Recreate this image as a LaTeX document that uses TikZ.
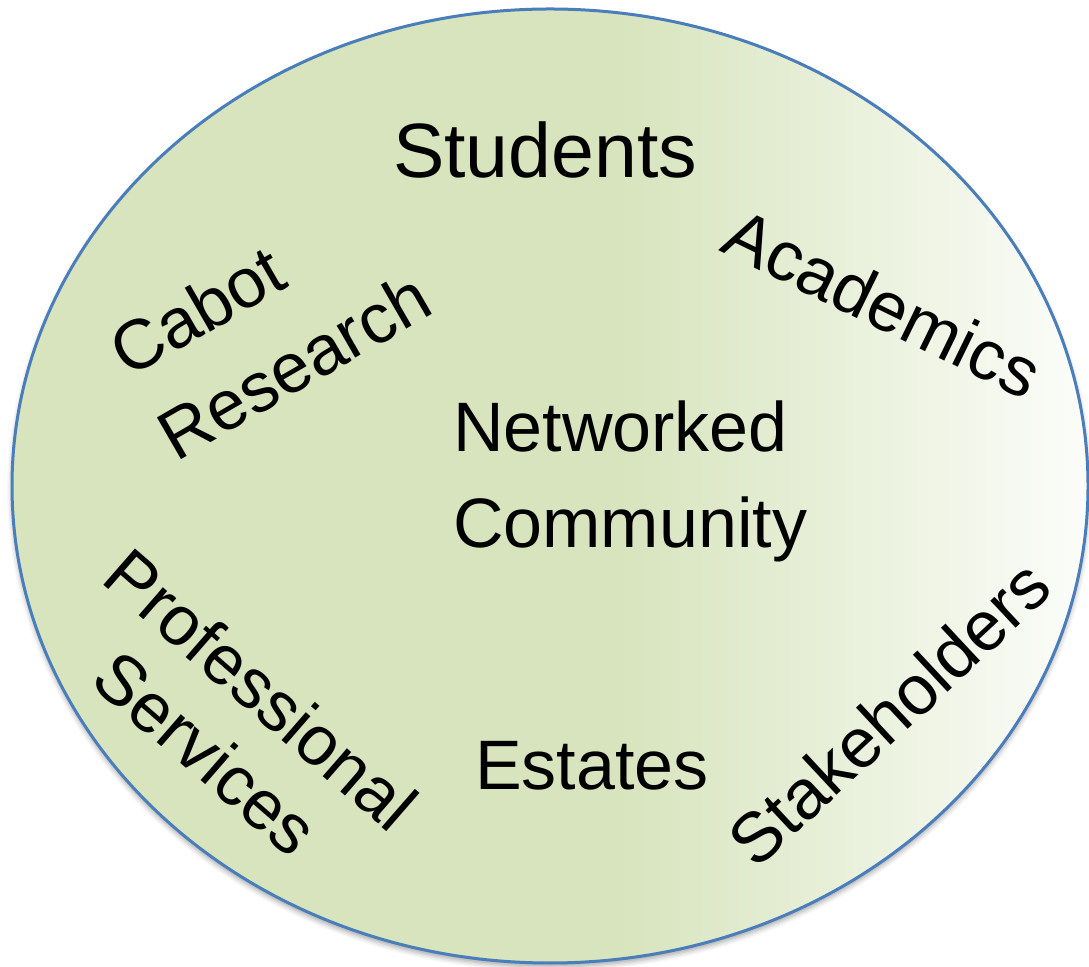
\documentclass[tikz,border=0pt]{standalone}
\usepackage{fontspec}
\setmainfont{Liberation Sans}
\usetikzlibrary{shapes.geometric,shadows.blur}

\definecolor{ringgreen}{RGB}{215,228,189}
\definecolor{ringblue}{RGB}{74,126,187}
\pgfdeclarehorizontalshading{greenfade}{100bp}{color(0bp)=(ringgreen); color(53bp)=(ringgreen); color(75bp)=(ringgreen!8!white); color(100bp)=(ringgreen!8!white)}

\begin{document}
\begin{tikzpicture}[x=1pt, y=1pt,
        member/.style={font=\fontsize{70}{96}\selectfont, inner sep=0pt, text=black}]
        \useasboundingbox (0,0) rectangle (1089,966);

        % the community itself
        \node[ellipse, minimum width=1076, minimum height=954, inner sep=0pt,
              shading=greenfade, draw=ringblue, line width=3pt,
              blur shadow={shadow xshift=0pt, shadow yshift=-4pt, shadow blur radius=5pt, shadow opacity=35}]
              (ring) at (550,480) {};

        % groups round the edge
        \node[member, font=\fontsize{77}{96}\selectfont, anchor=base] (students) at (545,788) {Students};
        \node[member, align=left, rotate=30] (cabot) at (270,642) {Cabot\\Research};
        \node[member, rotate=-26] (academics) at (883,663) {Academics};
        \node[member, font=\fontsize{70}{84}\selectfont, align=center, rotate=-41] (services) at (234,245) {Professional\\Services};
        \node[member, rotate=43] (stakeholders) at (889,253) {Stakeholders};
        \node[member, anchor=base] (estates) at (592,176) {Estates};

        % the middle
        \node[member, align=left, anchor=north west] (network) at (453,565) {Networked\\Community};
    \end{tikzpicture}
\end{document}
